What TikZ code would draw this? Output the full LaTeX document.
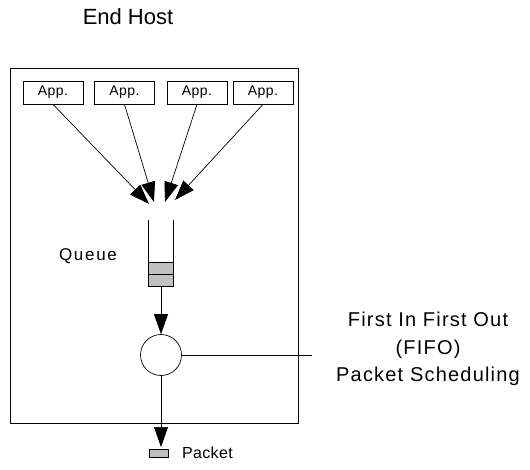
\documentclass[tikz,border=0pt]{standalone}
\usepackage{fontspec}
\setmainfont{Liberation Sans}
\usetikzlibrary{arrows.meta}
\definecolor{cellgray}{RGB}{192,192,192}
\tikzset{
  thin line/.style={line width=0.7pt},
  appbox/.style={draw, thin line, minimum width=60pt, minimum height=23pt, inner sep=0pt,
    font=\fontsize{14}{16}\selectfont\addfontfeature{LetterSpace=3}},
  bigarrow/.style={thin line, -{Triangle[length=20pt,width=14pt]}},
  label/.style={inner sep=0pt, align=center}
}
\begin{document}
\begin{tikzpicture}[x=1pt,y=-1pt]
\useasboundingbox (0,0) rectangle (530,470);

% title
\node[label, font=\fontsize{22}{24}\selectfont] (title) at (128,17) {End Host};

% host boundary
\draw[thin line] (10,68) rectangle (298,423);

% applications
\node[appbox] (app1) at (53,92.5) {App.};
\node[appbox] (app2) at (124.5,92.5) {App.};
\node[appbox] (app3) at (197,92.5) {App.};
\node[appbox] (app4) at (263,92.5) {App.};

% arrow tips meeting above the queue
\coordinate (t1) at (149,204);
\coordinate (t2) at (154,202);
\coordinate (t3) at (165,202);
\coordinate (t4) at (175,200);
\draw[bigarrow] (app1.south) -- (t1);
\draw[bigarrow] (app2.south) -- (t2);
\draw[bigarrow] (app3.south) -- (t3);
\draw[bigarrow] (app4.south) -- (t4);

% queue
\node[minimum width=24pt, minimum height=66pt, inner sep=0pt] (queue) at (161,253) {};
\fill[cellgray] (149,262) rectangle (173,286);
\draw[thin line] (149,262) -- (173,262) (149,274) -- (173,274);
\draw[thin line] (queue.north west) -- (queue.south west) -- (queue.south east) -- (queue.north east);
\node[label, font=\fontsize{17}{19}\selectfont\addfontfeature{LetterSpace=10}] (qlabel) at (88,256) {Queue};

% scheduler
\node[draw, thin line, circle, minimum size=41pt, inner sep=0pt] (sched) at (161,355) {};
\draw[bigarrow] (queue.south) -- (sched.north);
\coordinate (pin) at (312,355);
\draw[thin line] (sched.east) -- (pin);
\node[label, font=\fontsize{20}{27.5}\selectfont\addfontfeature{LetterSpace=6}] (fifo) at (428,349)
  {First In First Out\\(FIFO)\\Packet Scheduling};

% outgoing packet
\coordinate (out) at (161,447);
\draw[bigarrow] (sched.south) -- (out);
\node[draw, thin line, fill=cellgray, minimum width=19pt, minimum height=8pt, inner sep=0pt] (pkt) at (158.5,453) {};
\node[label, anchor=west, font=\fontsize{16}{18}\selectfont\addfontfeature{LetterSpace=2}] (pktlabel) at (182,453) {Packet};
\end{tikzpicture}
\end{document}
